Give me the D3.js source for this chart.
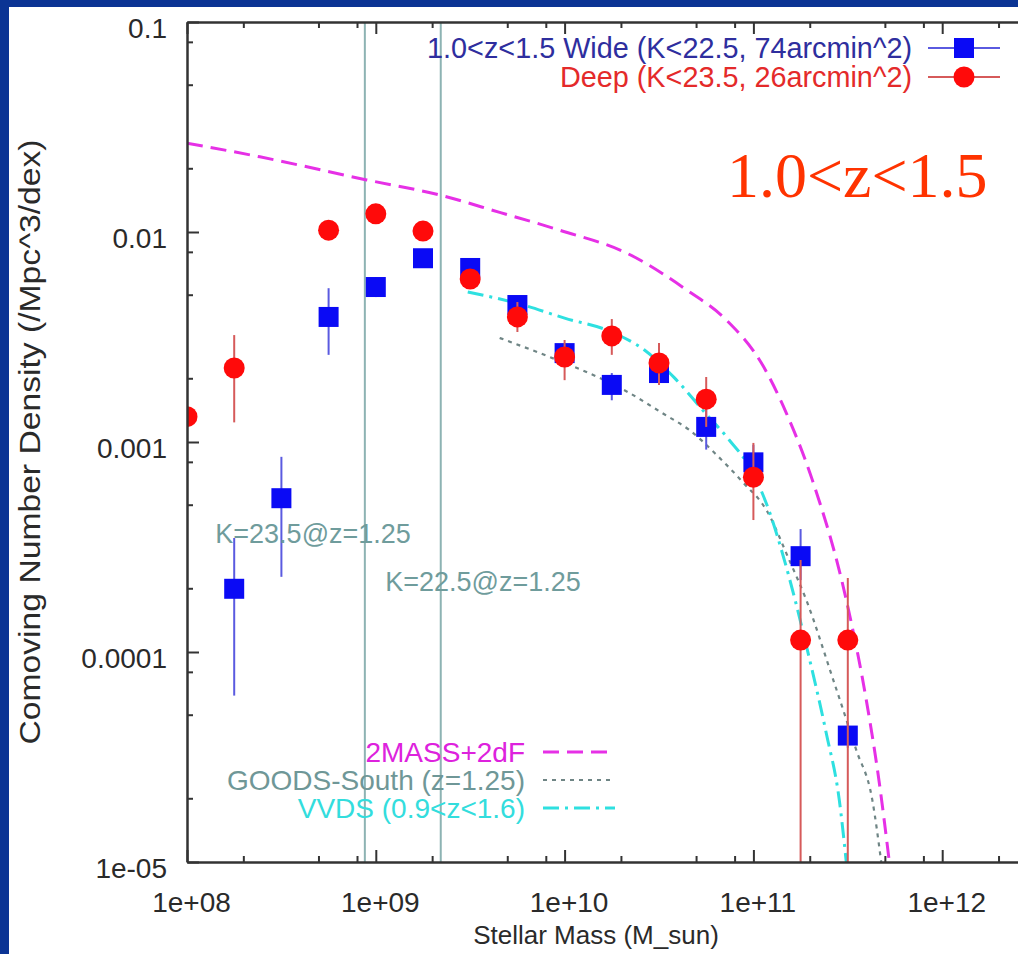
<!DOCTYPE html>
<html>
<head>
<meta charset="utf-8">
<script src="https://cdn.jsdelivr.net/npm/d3@7"></script>
<style>
  html, body { margin: 0; padding: 0; background: #0b3494; }
  svg { display: block; }
</style>
</head>
<body>
<svg id="chart" width="1018" height="954"></svg>
<script>
// ---- Stellar mass function, 1.0 < z < 1.5 ----
// Masses are stored as log10(M / M_sun); densities in /Mpc^3/dex.

// Wide field (K<22.5, 74 arcmin^2)
const wideLogM    = [8.25, 8.5, 8.75, 9.0, 9.25, 9.5, 9.75, 10.0, 10.25, 10.5, 10.75, 11.0, 11.25, 11.5];
const wideDensity = [2.0e-4, 5.4e-4, 3.94e-3, 5.47e-3, 7.5e-3, 6.74e-3, 4.49e-3, 2.65e-3, 1.87e-3, 2.13e-3, 1.18e-3, 8.0e-4, 2.86e-4, 4.0e-5];
const wideLow     = [6.2e-5, 2.28e-4, 2.6e-3, 4.9e-3, 7.0e-3, 6.3e-3, 4.1e-3, 2.4e-3, 1.58e-3, 1.9e-3, 9.2e-4, 6.6e-4, 2.2e-4, 3.5e-5];
const wideHigh    = [3.49e-4, 8.5e-4, 5.4e-3, 6.1e-3, 8.1e-3, 7.2e-3, 4.9e-3, 2.95e-3, 2.13e-3, 2.4e-3, 1.53e-3, 9.7e-4, 3.85e-4, 4.6e-5];

// Deep field (K<23.5, 26 arcmin^2)
const deepLogM    = [8.0, 8.25, 8.75, 9.0, 9.25, 9.5, 9.75, 10.0, 10.25, 10.5, 10.75, 11.0, 11.25, 11.5];
const deepDensity = [1.32e-3, 2.25e-3, 1.02e-2, 1.22e-2, 1.01e-2, 5.97e-3, 3.94e-3, 2.54e-3, 3.2e-3, 2.38e-3, 1.6e-3, 6.8e-4, 1.14e-4, 1.14e-4];
const deepLow     = [1.32e-3, 1.24e-3, 9.6e-3, 1.16e-2, 9.5e-3, 5.5e-3, 3.34e-3, 1.97e-3, 2.6e-3, 1.87e-3, 1.18e-3, 4.25e-4, 1e-7, 1e-7];
const deepHigh    = [1.32e-3, 3.23e-3, 1.08e-2, 1.28e-2, 1.07e-2, 6.4e-3, 4.64e-3, 3.06e-3, 3.85e-3, 2.96e-3, 2.04e-3, 9.9e-4, 2.74e-4, 2.25e-4];

// Local reference: 2MASS+2dF
const twoMassLogM    = [8.0, 8.386, 8.952, 9.339, 9.656, 9.974, 10.328, 10.646, 10.857, 11.048, 11.175, 11.312, 11.492, 11.598, 11.667, 11.72];
const twoMassDensity = [2.65e-2, 2.28e-2, 1.77e-2, 1.5e-2, 1.24e-2, 1.02e-2, 7.94e-3, 5.3e-3, 3.81e-3, 2.33e-3, 1.37e-3, 6.6e-4, 1.77e-4, 5.9e-5, 2.38e-5, 1.0e-5];

// GOODS-South (z=1.25)
const goodsLogM    = [9.656, 9.921, 10.185, 10.344, 10.519, 10.661, 10.804, 10.942, 11.069, 11.19, 11.28, 11.418, 11.545, 11.63, 11.677];
const goodsDensity = [3.13e-3, 2.54e-3, 2.02e-3, 1.71e-3, 1.37e-3, 1.14e-3, 8.7e-4, 6.46e-4, 4.74e-4, 2.74e-4, 1.77e-4, 7.6e-5, 3.41e-5, 1.97e-5, 1.0e-5];

// VVDS (0.9<z<1.6)
const vvdsLogM    = [9.487, 9.762, 10.0, 10.249, 10.423, 10.582, 10.746, 10.873, 10.995, 11.085, 11.164, 11.228, 11.286, 11.386, 11.455, 11.492];
const vvdsDensity = [5.18e-3, 4.54e-3, 3.89e-3, 3.34e-3, 2.74e-3, 2.02e-3, 1.37e-3, 1.02e-3, 7.2e-4, 4.65e-4, 2.74e-4, 1.67e-4, 1.02e-4, 4.1e-5, 1.97e-5, 1.0e-5];

// K-band completeness limits at z=1.25
const limitLogM   = [8.942, 9.344];
const limitLabels = ["K=23.5@z=1.25", "K=22.5@z=1.25"];
const limitLabelDensity = [3.3e-4, 1.95e-4];
const limitLabelLogM    = [8.15, 9.05];

// Axis ticks
const xTickValues = [1e8, 1e9, 1e10, 1e11, 1e12];
const xTickLabels = ["1e+08", "1e+09", "1e+10", "1e+11", "1e+12"];
const yTickValues = [1e-5, 1e-4, 1e-3, 1e-2, 1e-1];
const yTickLabels = ["1e-05", "0.0001", "0.001", "0.01", "0.1"];
const minorSteps  = [2, 5, 8];

const seriesNames = ["1.0<z<1.5 Wide (K<22.5, 74arcmin^2)", "Deep (K<23.5, 26arcmin^2)"];
const curveNames  = ["2MASS+2dF", "GOODS-South (z=1.25)", "VVDS (0.9<z<1.6)"];

// ---- layout ----
const W = 1018, H = 954;
const plot = { left: 187, top: 22, bottom: 862, right: 1131 };
const sans = "'Liberation Sans', Arial, Helvetica, sans-serif";

const svg = d3.select("#chart");

// frame: blue border, white page
svg.append("rect").attr("width", W).attr("height", H).attr("fill", "#0b3494");
svg.append("rect").attr("x", 9).attr("y", 7).attr("width", W - 9).attr("height", H - 7).attr("fill", "#ffffff");

const x = d3.scaleLog().domain([1e8, 1e13]).range([plot.left, plot.right]);
const y = d3.scaleLog().domain([1e-5, 1e-1]).range([plot.bottom, plot.top]);

svg.append("defs").append("clipPath").attr("id", "plotClip")
  .append("rect").attr("x", plot.left).attr("y", plot.top)
  .attr("width", plot.right - plot.left).attr("height", plot.bottom - plot.top);

const inner = svg.append("g").attr("clip-path", "url(#plotClip)");

// completeness limit lines
inner.selectAll("line.limit").data(limitLogM).join("line")
  .attr("class", "limit")
  .attr("x1", d => x(10 ** d)).attr("x2", d => x(10 ** d))
  .attr("y1", plot.top).attr("y2", plot.bottom)
  .attr("stroke", "#8db3b3").attr("stroke-width", 2);

svg.selectAll("text.limitLabel").data(limitLabels).join("text")
  .attr("class", "limitLabel")
  .attr("x", (d, i) => x(10 ** limitLabelLogM[i]))
  .attr("y", (d, i) => y(limitLabelDensity[i]))
  .attr("font-family", sans).attr("font-size", 27)
  .attr("fill", "#6f9c9c")
  .text(d => d);

// model / comparison curves
const lineGen = d3.line()
  .x(d => x(10 ** d[0])).y(d => y(d[1]))
  .curve(d3.curveMonotoneX);

const curves = [
  { name: curveNames[0], logM: twoMassLogM, dens: twoMassDensity, color: "#e630e6", dash: "16,8", width: 3 },
  { name: curveNames[1], logM: goodsLogM,   dens: goodsDensity,   color: "#6f8585", dash: "4,5",  width: 2.2 },
  { name: curveNames[2], logM: vvdsLogM,    dens: vvdsDensity,    color: "#2ee0e0", dash: "16,6,3,6", width: 3 }
];

curves.forEach(c => {
  inner.append("path")
    .datum(c.logM.map((m, i) => [m, c.dens[i]]))
    .attr("d", lineGen)
    .attr("fill", "none")
    .attr("stroke", c.color)
    .attr("stroke-width", c.width)
    .attr("stroke-dasharray", c.dash);
});

// Wide: error bars + squares
const wide = wideLogM.map((m, i) => ({ m, v: wideDensity[i], lo: wideLow[i], hi: wideHigh[i] }));
const deep = deepLogM.map((m, i) => ({ m, v: deepDensity[i], lo: deepLow[i], hi: deepHigh[i] }));

inner.selectAll("line.wideErr").data(wide).join("line")
  .attr("class", "wideErr")
  .attr("x1", d => x(10 ** d.m)).attr("x2", d => x(10 ** d.m))
  .attr("y1", d => y(d.lo)).attr("y2", d => y(d.hi))
  .attr("stroke", "#5a5ae0").attr("stroke-width", 2);

const sq = 20;
inner.selectAll("rect.wide").data(wide).join("rect")
  .attr("class", "wide")
  .attr("x", d => x(10 ** d.m) - sq / 2).attr("y", d => y(d.v) - sq / 2)
  .attr("width", sq).attr("height", sq)
  .attr("fill", "#0a0af5");

// Deep: error bars + circles
inner.selectAll("line.deepErr").data(deep).join("line")
  .attr("class", "deepErr")
  .attr("x1", d => x(10 ** d.m)).attr("x2", d => x(10 ** d.m))
  .attr("y1", d => y(d.lo)).attr("y2", d => y(d.hi))
  .attr("stroke", "#d65a5a").attr("stroke-width", 2);

inner.selectAll("circle.deep").data(deep).join("circle")
  .attr("class", "deep")
  .attr("cx", d => x(10 ** d.m)).attr("cy", d => y(d.v))
  .attr("r", 10.5)
  .attr("fill", "#ff0a0a");

// ---- axes ----
const axisColor = "#333333";

const xAxis = d3.axisBottom(x).tickValues(xTickValues)
  .tickFormat((d, i) => xTickLabels[i])
  .tickSizeInner(-12).tickSizeOuter(0).tickPadding(30);
const gx = svg.append("g").attr("transform", `translate(0,${plot.bottom})`).call(xAxis);

const xTop = d3.axisTop(x).tickValues(xTickValues).tickFormat("")
  .tickSizeInner(-12).tickSizeOuter(0);
const gxt = svg.append("g").attr("transform", `translate(0,${plot.top})`).call(xTop);

const yAxis = d3.axisLeft(y).tickValues(yTickValues)
  .tickFormat((d, i) => yTickLabels[i])
  .tickSizeInner(-12).tickSizeOuter(0).tickPadding(20);
const gy = svg.append("g").attr("transform", `translate(${plot.left},0)`).call(yAxis);

[gx, gxt, gy].forEach(g => {
  g.select(".domain").attr("stroke", axisColor).attr("stroke-width", 2.5);
  g.selectAll(".tick line").attr("stroke", axisColor).attr("stroke-width", 2);
  g.selectAll(".tick text")
    .attr("font-family", sans).attr("font-size", 28).attr("fill", "#2a2a2a");
});
gy.selectAll(".tick text").attr("dy", "0.54em");
gx.selectAll(".tick text").attr("dx", 4);

// minor ticks (2, 5, 8 within each decade)
const xMinor = [];
for (let e = 8; e < 13; e++) minorSteps.forEach(s => xMinor.push(s * 10 ** e));
const yMinor = [];
for (let e = -5; e < -1; e++) minorSteps.forEach(s => yMinor.push(s * 10 ** e));
const xMinorVisible = xMinor.filter(v => x(v) < W);

const minorG = svg.append("g").attr("stroke", axisColor).attr("stroke-width", 2);
minorG.selectAll("line.xmb").data(xMinorVisible).join("line")
  .attr("class", "xmb")
  .attr("x1", d => x(d)).attr("x2", d => x(d))
  .attr("y1", plot.bottom).attr("y2", plot.bottom - 6);
minorG.selectAll("line.xmt").data(xMinorVisible).join("line")
  .attr("class", "xmt")
  .attr("x1", d => x(d)).attr("x2", d => x(d))
  .attr("y1", plot.top).attr("y2", plot.top + 6);
minorG.selectAll("line.ym").data(yMinor).join("line")
  .attr("class", "ym")
  .attr("x1", plot.left).attr("x2", plot.left + 6)
  .attr("y1", d => y(d)).attr("y2", d => y(d));

// axis titles
svg.append("text")
  .attr("x", 596).attr("y", 944)
  .attr("text-anchor", "middle")
  .attr("font-family", sans).attr("font-size", 26).attr("fill", "#2a2a2a")
  .text("Stellar Mass (M_sun)");

svg.append("text")
  .attr("transform", "translate(40,442) rotate(-90)")
  .attr("text-anchor", "middle")
  .attr("font-family", sans).attr("font-size", 29).attr("fill", "#2a2a2a")
  .attr("textLength", 605).attr("lengthAdjust", "spacingAndGlyphs")
  .text("Comoving Number Density (/Mpc^3/dex)");

// ---- legend (data series) ----
const legendTop = [
  { name: seriesNames[0], color: "#2e2e9e", line: "#5a5ae0", marker: "square", y: 48 },
  { name: seriesNames[1], color: "#e42a2a", line: "#d65a5a", marker: "circle", y: 77 }
];
legendTop.forEach(l => {
  svg.append("text")
    .attr("x", 912).attr("y", l.y + 10)
    .attr("text-anchor", "end")
    .attr("font-family", sans).attr("font-size", 28.8).attr("fill", l.color)
    .text(l.name);
  svg.append("line")
    .attr("x1", 928).attr("x2", 1000).attr("y1", l.y).attr("y2", l.y)
    .attr("stroke", l.line).attr("stroke-width", 2);
  if (l.marker === "square") {
    svg.append("rect").attr("x", 964 - sq / 2).attr("y", l.y - sq / 2)
      .attr("width", sq).attr("height", sq).attr("fill", "#0a0af5");
  } else {
    svg.append("circle").attr("cx", 964).attr("cy", l.y).attr("r", 10.5).attr("fill", "#ff0a0a");
  }
});

// ---- legend (comparison curves) ----
const legendCurveY = [752, 780, 808];
const legendCurveText = ["#dd22dd", "#6f9797", "#33dddd"];
curves.forEach((c, i) => {
  svg.append("text")
    .attr("x", 525).attr("y", legendCurveY[i] + 10)
    .attr("text-anchor", "end")
    .attr("font-family", sans).attr("font-size", 28).attr("fill", legendCurveText[i])
    .text(c.name);
  svg.append("line")
    .attr("x1", 543).attr("x2", 615)
    .attr("y1", legendCurveY[i]).attr("y2", legendCurveY[i])
    .attr("stroke", c.color).attr("stroke-width", c.width)
    .attr("stroke-dasharray", c.dash);
});

// redshift-bin label
svg.append("text")
  .attr("x", 727).attr("y", 197)
  .attr("font-family", "'Liberation Serif', 'Times New Roman', serif")
  .attr("font-size", 64).attr("fill", "#ff3300")
  .text("1.0<z<1.5");
</script>
</body>
</html>
